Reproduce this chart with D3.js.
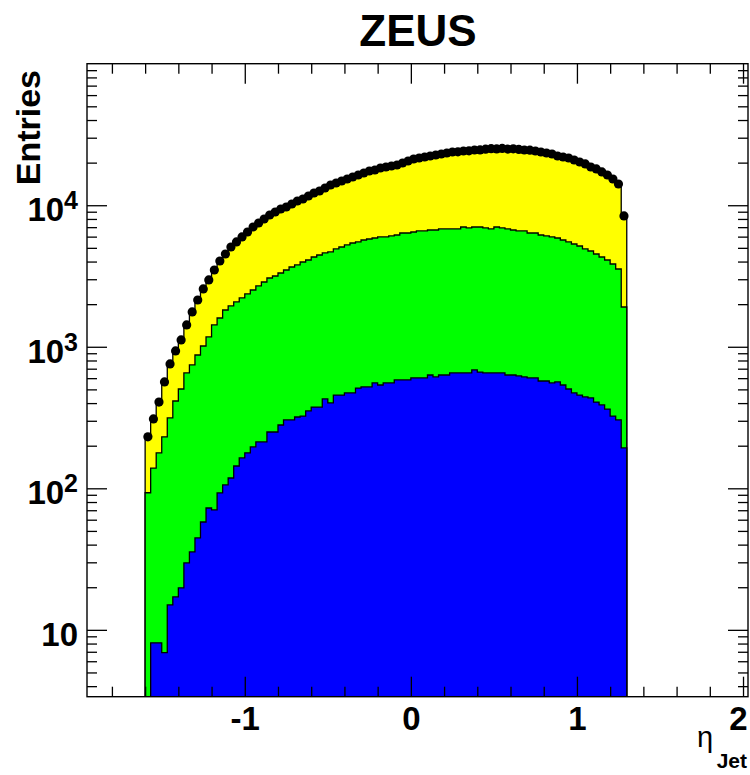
<!DOCTYPE html>
<html>
<head>
<meta charset="utf-8">
<script src="https://cdn.jsdelivr.net/npm/d3@7"></script>
<style>
  body { margin: 0; background: #fff; }
  text { font-family: "Liberation Sans", Arial, Helvetica, sans-serif; }
</style>
</head>
<body>
<svg id="chart" width="750" height="775"></svg>
<script>
// Jet pseudorapidity: 87 bins of width 1/30 from -1.6 to 1.3
const binLow = -1.6;
const binWidth = 1 / 30;

// Measured entries per bin (black points)
const dataEntries = [
  231, 309, 407, 564, 756, 934, 1117, 1426, 1762, 2141,
  2561, 2965, 3487, 4037, 4525, 5070, 5501, 5967, 6471, 7019,
  7493, 7995, 8533, 8960, 9408, 9719, 10205, 10715, 11070, 11623,
  12203, 12608, 13238, 13898, 14357, 14832, 15324, 15831, 16354, 16894,
  17458, 17742, 18333, 18631, 18938, 19250, 19886, 20543, 21225, 21571,
  21926, 22283, 22646, 23019, 23394, 23779, 23850, 24171, 24250, 24565,
  24600, 24900, 25100, 25000, 25200, 24950, 25050, 24800, 24565, 24480,
  24171, 23779, 23394, 23019, 22283, 21926, 21571, 20880, 20210, 19570,
  18631, 18040, 17180, 16354, 15324, 14124, 8397
];

// Simulated distributions (yellow: all, green: subset, blue: sub-subset)
const mcTotal = [
  225, 300, 395, 548, 735, 905, 1085, 1385, 1710, 2080,
  2490, 2880, 3390, 3920, 4400, 4920, 5340, 5790, 6280, 6810,
  7270, 7760, 8280, 8700, 9130, 9430, 9900, 10400, 10740, 11280,
  11840, 12230, 12840, 13480, 13930, 14390, 14860, 15360, 15860, 16390,
  16930, 17210, 17780, 18070, 18370, 18670, 19290, 19930, 20590, 20920,
  21270, 21610, 21970, 22330, 22690, 23070, 23140, 23450, 23520, 23830,
  23860, 24150, 24350, 24250, 24440, 24200, 24300, 24060, 23830, 23750,
  23450, 23070, 22690, 22330, 21610, 21270, 20920, 20250, 19600, 18980,
  18070, 17500, 16660, 15860, 14860, 13700, 8150
];
const mcGreen = [
  93, 139, 178, 231, 314, 414, 503, 653, 744, 875,
  1013, 1173, 1426, 1597, 1819, 1942, 2073, 2212, 2361, 2519,
  2689, 2869, 3062, 3163, 3321, 3487, 3662, 3784, 3973, 4104,
  4309, 4452, 4600, 4675, 4909, 5070, 5239, 5412, 5501, 5681,
  5774, 5869, 5967, 5967, 6066, 6164, 6368, 6368, 6471, 6579,
  6579, 6686, 6686, 6797, 6797, 6797, 6797, 7019, 6909, 7019,
  7019, 6909, 6797, 7019, 6909, 6797, 6686, 6579, 6579, 6368,
  6368, 6164, 6066, 5967, 5869, 5681, 5501, 5323, 5152, 4909,
  4751, 4525, 4309, 4104, 3845, 3545, 1910
];
const mcBlue = [
  2, 8.1, 8.1, 6.9, 15.0, 17.1, 19.8, 29.7, 35.5, 44.6,
  57.8, 72.6, 70.3, 92.7, 105.6, 118.3, 143.8, 163.8, 178, 195.9,
  212.5, 212.5, 250, 250, 280, 304, 304, 319, 324, 352,
  375, 375, 428, 401, 456, 456, 472, 472, 511, 520,
  520, 555, 537, 555, 555, 583, 583, 583, 602, 602,
  602, 632, 612, 632, 632, 653, 653, 653, 653, 686,
  663, 653, 653, 653, 653, 632, 632, 622, 612, 602,
  602, 573, 573, 555, 564, 537, 503, 472, 456, 442,
  435, 407, 388, 363, 324, 304, 193
];

const xMajorTicks = [-1, 0, 1, 2];
const xTickLabels = ["-1", "0", "1", "2"];
const yMajorTicks = [10, 100, 1000, 10000];
const yTickExponents = ["", "2", "3", "4"];

const svg = d3.select("#chart");
const frame = { left: 87, right: 748, top: 63.7, bottom: 696.7 };

const x = d3.scaleLinear().domain([-1.95, 2.03]).range([frame.left, frame.right]);
const y = d3.scaleLog().domain([3.37, 1e5]).range([frame.bottom, frame.top]).clamp(true);

svg.append("defs").append("clipPath").attr("id", "plotClip")
  .append("rect")
  .attr("x", frame.left).attr("y", frame.top)
  .attr("width", frame.right - frame.left).attr("height", frame.bottom - frame.top);

const plot = svg.append("g").attr("clip-path", "url(#plotClip)");

// Step-shaped histogram outline, closed down to the frame bottom
function histPoints(values) {
  const pts = values.map((v, i) => [binLow + i * binWidth, v]);
  pts.push([binLow + values.length * binWidth, values[values.length - 1]]);
  return pts;
}
const histArea = d3.area()
  .curve(d3.curveStepAfter)
  .x(d => x(d[0]))
  .y0(frame.bottom)
  .y1(d => y(d[1]));

[[mcTotal, "#ffff00"], [mcGreen, "#00ff00"], [mcBlue, "#0000ff"]].forEach(([vals, col]) => {
  plot.append("path")
    .datum(histPoints(vals))
    .attr("d", histArea)
    .attr("fill", col)
    .attr("stroke", "#000")
    .attr("stroke-width", 1.3)
    .attr("stroke-linejoin", "miter");
});

// Data points
plot.append("g").selectAll("circle")
  .data(dataEntries)
  .join("circle")
  .attr("cx", (d, i) => x(binLow + (i + 0.5) * binWidth))
  .attr("cy", d => y(d))
  .attr("r", 4.6)
  .attr("fill", "#000");

// Axes with inward ticks on all four sides
const xMinor = d3.range(-18, 21, 2).map(v => v / 10).filter(v => Math.abs(v - Math.round(v)) > 1e-9);
const yMinor = [];
[1, 10, 100, 1000, 10000].forEach(dec => {
  for (let k = 2; k <= 9; k++) {
    const v = k * dec;
    if (v >= 3.37 && v <= 1e5) yMinor.push(v);
  }
});

function styleAxis(g) {
  g.select(".domain").remove();
  g.selectAll("line").attr("stroke", "#000").attr("stroke-width", 1.3);
}

const axes = svg.append("g");
axes.append("g").attr("transform", `translate(0,${frame.bottom})`)
  .call(d3.axisBottom(x).tickValues(xMinor).tickSize(-10).tickFormat("")).call(styleAxis);
axes.append("g").attr("transform", `translate(0,${frame.bottom})`)
  .call(d3.axisBottom(x).tickValues(xMajorTicks).tickSize(-20).tickPadding(10)
    .tickFormat((d, i) => xTickLabels[i]))
  .call(styleAxis)
  .call(g => g.selectAll("text")
    .attr("font-size", 33).attr("font-weight", "bold").attr("fill", "#000")
    .attr("font-family", "'Liberation Sans', Arial, sans-serif"))
  // keep the rightmost label inside the canvas edge
  .call(g => g.selectAll("text").filter(d => d === 2).attr("dx", -5));
axes.append("g").attr("transform", `translate(0,${frame.top})`)
  .call(d3.axisTop(x).tickValues(xMinor).tickSize(-10).tickFormat("")).call(styleAxis);
axes.append("g").attr("transform", `translate(0,${frame.top})`)
  .call(d3.axisTop(x).tickValues(xMajorTicks).tickSize(-20).tickFormat("")).call(styleAxis);

axes.append("g").attr("transform", `translate(${frame.left},0)`)
  .call(d3.axisLeft(y).tickValues(yMinor).tickSize(-10).tickFormat("")).call(styleAxis);
axes.append("g").attr("transform", `translate(${frame.left},0)`)
  .call(d3.axisLeft(y).tickValues(yMajorTicks).tickSize(-20).tickFormat("")).call(styleAxis);
axes.append("g").attr("transform", `translate(${frame.right},0)`)
  .call(d3.axisRight(y).tickValues(yMinor).tickSize(-10).tickFormat("")).call(styleAxis);
axes.append("g").attr("transform", `translate(${frame.right},0)`)
  .call(d3.axisRight(y).tickValues(yMajorTicks).tickSize(-20).tickFormat("")).call(styleAxis);

// Frame
svg.append("rect")
  .attr("x", frame.left).attr("y", frame.top)
  .attr("width", frame.right - frame.left).attr("height", frame.bottom - frame.top)
  .attr("fill", "none").attr("stroke", "#000").attr("stroke-width", 1.4);

// Y tick labels as powers of ten
yMajorTicks.forEach((v, i) => {
  const t = svg.append("text")
    .attr("x", 78).attr("y", y(v) + 16)
    .attr("text-anchor", "end")
    .attr("font-size", 33).attr("font-weight", "bold").attr("fill", "#000");
  t.append("tspan").text("10");
  if (yTickExponents[i]) {
    t.append("tspan").attr("dy", -12).attr("font-size", 25).text(yTickExponents[i]);
  }
});

// Title and axis titles
svg.append("text")
  .attr("x", 418).attr("y", 46)
  .attr("text-anchor", "middle")
  .attr("font-size", 44).attr("font-weight", "bold")
  .text("ZEUS");

svg.append("text")
  .attr("transform", "translate(40,70) rotate(-90)")
  .attr("text-anchor", "end")
  .attr("font-size", 34).attr("font-weight", "bold")
  .text("Entries");

svg.append("text")
  .attr("x", 705).attr("y", 747)
  .attr("text-anchor", "middle")
  .attr("font-size", 29)
  .text("η");
svg.append("text")
  .attr("x", 747).attr("y", 768)
  .attr("text-anchor", "end")
  .attr("font-size", 21).attr("font-weight", "bold")
  .text("Jet");
</script>
</body>
</html>
